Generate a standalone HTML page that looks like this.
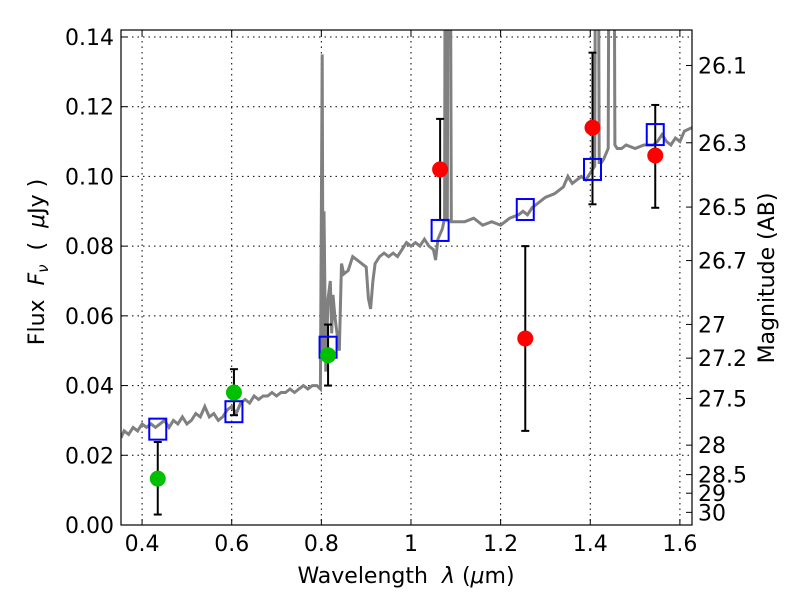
<!DOCTYPE html>
<html><head><meta charset="utf-8"><style>
body{margin:0;background:#fff;width:800px;height:600px;overflow:hidden}
svg text{font-family:"DejaVu Sans","Liberation Sans",sans-serif;fill:#000;white-space:pre}
</style></head><body>
<svg id="chart" width="800" height="600" xmlns="http://www.w3.org/2000/svg">
<g id="grid"></g>
<g id="spec"></g>
<g id="marks"></g>
<rect x="121" y="30" width="571" height="495" fill="none" stroke="#000" stroke-width="1.2"/>
<g id="axes"></g>
<text x="406" y="583" font-size="22" text-anchor="middle" xml:space="preserve">Wavelength  <tspan font-style="italic">λ</tspan> (<tspan font-style="italic">μ</tspan>m)</text>
<text transform="translate(44,262) rotate(-90)" font-size="22" text-anchor="middle" xml:space="preserve">Flux  <tspan font-style="italic">F</tspan><tspan font-style="italic" font-size="15" dy="4">ν</tspan><tspan dy="-4">  (  </tspan><tspan font-style="italic">μ</tspan>Jy )</text>
<text transform="translate(774,278) rotate(-90)" font-size="22" text-anchor="middle">Magnitude (AB)</text>
</svg>
<script>
const xTicks=[0.4,0.6,0.8,1.0,1.2,1.4,1.6];
const xTickLabels=["0.4","0.6","0.8","1","1.2","1.4","1.6"];
const yTicks=[0,0.02,0.04,0.06,0.08,0.10,0.12,0.14];
const yTickLabels=["0.00","0.02","0.04","0.06","0.08","0.10","0.12","0.14"];
const magTicks=[26.1,26.3,26.5,26.7,27,27.2,27.5,28,28.5,29,30];
const specWave=[0.353,0.36,0.37,0.38,0.39,0.40,0.41,0.42,0.43,0.44,0.45,0.46,0.47,0.48,0.49,0.50,0.51,0.52,0.53,0.54,0.55,0.56,0.57,0.58,0.59,0.60,0.61,0.62,0.63,0.64,0.65,0.66,0.67,0.68,0.69,0.70,0.71,0.72,0.73,0.74,0.75,0.76,0.77,0.78,0.79,0.798,0.802,0.804,0.806,0.81,0.815,0.82,0.823,0.826,0.83,0.835,0.84,0.845,0.85,0.86,0.87,0.88,0.89,0.90,0.905,0.91,0.915,0.92,0.93,0.94,0.95,0.96,0.97,0.98,0.99,1.00,1.01,1.02,1.03,1.04,1.05,1.055,1.06,1.07,1.075,1.078,1.081,1.085,1.09,1.10,1.12,1.14,1.16,1.18,1.20,1.22,1.24,1.25,1.26,1.27,1.28,1.30,1.32,1.34,1.35,1.36,1.38,1.39,1.40,1.41,1.415,1.42,1.425,1.43,1.44,1.445,1.45,1.455,1.46,1.47,1.48,1.50,1.52,1.54,1.55,1.56,1.57,1.58,1.59,1.60,1.61,1.627];
const specFlux=[0.025,0.027,0.026,0.028,0.027,0.029,0.028,0.029,0.028,0.029,0.030,0.028,0.030,0.029,0.031,0.029,0.030,0.032,0.031,0.034,0.031,0.032,0.030,0.031,0.033,0.034,0.032,0.035,0.036,0.035,0.037,0.036,0.037,0.037,0.038,0.037,0.038,0.038,0.039,0.038,0.039,0.040,0.039,0.040,0.040,0.039,0.135,0.05,0.09,0.044,0.065,0.07,0.055,0.066,0.06,0.055,0.05,0.075,0.072,0.073,0.077,0.076,0.075,0.074,0.065,0.062,0.07,0.075,0.077,0.078,0.077,0.078,0.077,0.079,0.081,0.080,0.081,0.080,0.082,0.080,0.079,0.076,0.082,0.085,0.088,0.30,0.087,0.30,0.087,0.087,0.087,0.088,0.086,0.087,0.086,0.088,0.089,0.090,0.089,0.091,0.092,0.094,0.095,0.097,0.100,0.098,0.100,0.099,0.101,0.103,0.30,0.104,0.104,0.105,0.108,0.30,0.30,0.109,0.108,0.108,0.109,0.108,0.109,0.109,0.110,0.112,0.110,0.109,0.111,0.110,0.113,0.114,0.115];
const blueWave=[0.435,0.605,0.815,1.065,1.255,1.405,1.545];
const blueFlux=[0.0275,0.0325,0.051,0.0845,0.0905,0.102,0.112];
const greenWave=[0.435,0.605,0.815];
const greenFlux=[0.0133,0.038,0.0487];
const greenLo=[0.0030,0.0315,0.0400];
const greenHi=[0.0238,0.0447,0.0575];
const redWave=[1.065,1.255,1.405,1.545];
const redFlux=[0.102,0.0535,0.114,0.106];
const redLo=[0.0875,0.027,0.092,0.091];
const redHi=[0.1165,0.080,0.1355,0.1205];

const X0=121,X1=692,Y0=525,Y1=30,XMIN=0.353,XMAX=1.627,YMIN=0,YMAX=0.142;
const sx=v=>X0+(v-XMIN)/(XMAX-XMIN)*(X1-X0);
const sy=v=>Y0-(v-YMIN)/(YMAX-YMIN)*(Y0-Y1);
const NS="http://www.w3.org/2000/svg";
function mk(tag,parent,attrs){const e=document.createElementNS(NS,tag);for(const k in attrs)e.setAttribute(k,attrs[k]);parent.appendChild(e);return e;}
const grid=document.getElementById('grid'),axes=document.getElementById('axes'),spec=document.getElementById('spec'),marks=document.getElementById('marks');
const cp=mk('clipPath',document.getElementById('chart'),{id:'clip'});mk('rect',cp,{x:X0,y:Y1,width:X1-X0,height:Y0-Y1});
xTicks.forEach((t,i)=>{const x=sx(t);
 let g=mk('line',grid,{x1:x,x2:x,y1:Y1,y2:Y0,stroke:'#000','stroke-dasharray':'1.5,4','stroke-width':1});
 
 let a=mk('line',axes,{x1:x,x2:x,y1:Y0,y2:Y0-6,stroke:'#000'});
 mk('line',axes,{x1:x,x2:x,y1:Y1,y2:Y1+6,stroke:'#000'});
 let l=mk('text',axes,{x:x,y:551,'font-size':22,'text-anchor':'middle'});l.textContent=xTickLabels[i];
 });
yTicks.forEach((t,i)=>{const y=sy(t);
 let g=mk('line',grid,{x1:X0,x2:X1,y1:y,y2:y,stroke:'#000','stroke-dasharray':'1.5,4','stroke-width':1});
 
 let a=mk('line',axes,{x1:X0,x2:X0+6,y1:y,y2:y,stroke:'#000'});
 let l=mk('text',axes,{x:114,y:y+8,'font-size':22,'text-anchor':'end'});l.textContent=yTickLabels[i];
 });
magTicks.forEach(m=>{const f=Math.pow(10,(23.9-m)/2.5);const y=sy(f);
 let a=mk('line',axes,{x1:X1,x2:X1-6,y1:y,y2:y,stroke:'#000'});
 let l=mk('text',axes,{x:698,y:y+8,'font-size':22});l.textContent=String(m);
 });
let d=specWave.map((w,i)=>(i?'L':'M')+sx(w).toFixed(1)+','+sy(specFlux[i]).toFixed(1)).join('');
let p=mk('path',spec,{d:d,fill:'none',stroke:'#808080','stroke-width':3,'clip-path':'url(#clip)'});

function errbar(w,lo,hi){const x=sx(w);
 let e=mk('g',marks,{stroke:'#000','stroke-width':2});
 mk('line',e,{x1:x,x2:x,y1:sy(lo),y2:sy(hi)});mk('line',e,{x1:x-4,x2:x+4,y1:sy(lo),y2:sy(lo)});mk('line',e,{x1:x-4,x2:x+4,y1:sy(hi),y2:sy(hi)});}
greenWave.forEach((w,i)=>errbar(w,greenLo[i],greenHi[i]));
redWave.forEach((w,i)=>errbar(w,redLo[i],redHi[i]));
blueWave.forEach((w,i)=>{let r=mk('rect',marks,{x:sx(w)-8.5,y:sy(blueFlux[i])-10.5,width:17,height:21,fill:'none',stroke:'#0000ff','stroke-width':2});
 });
greenWave.forEach((w,i)=>{let c=mk('circle',marks,{cx:sx(w),cy:sy(greenFlux[i]),r:8,fill:'#00c000'});
 });
redWave.forEach((w,i)=>{let c=mk('circle',marks,{cx:sx(w),cy:sy(redFlux[i]),r:8,fill:'#ff0000'});
 });
</script>
</body></html>
